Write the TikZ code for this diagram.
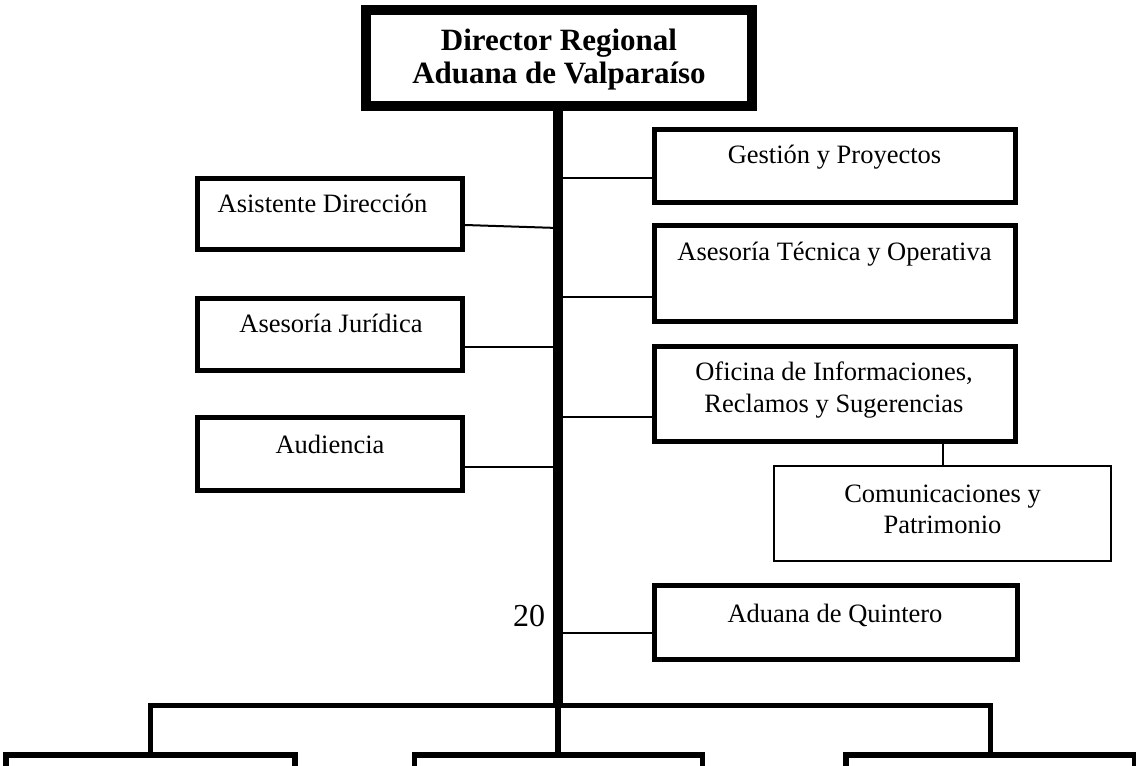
\documentclass[tikz,border=0pt]{standalone}
\usepackage{fontspec}
\setmainfont{Liberation Serif}
\begin{document}
\begin{tikzpicture}[x=1pt,y=-1pt,
  unit/.style={draw, line width=5pt, rectangle, inner sep=0pt},
  thinunit/.style={draw, line width=2pt, rectangle, inner sep=0pt},
  lbl/.style={anchor=base, inner sep=0pt, align=center, font=\fontsize{26.5}{32}\selectfont},
  link/.style={line width=2pt},
  spine/.style={line width=10pt},
  bar/.style={line width=5.5pt, line join=miter}]
\fill[white] (0,0) rectangle (1136,766);
\clip (0,0) rectangle (1136,766);
% top box
\node[draw, line width=10pt, inner sep=0pt, minimum width=386pt, minimum height=96pt] (dir) at (559,58) {};
\node[lbl, font=\fontsize{31}{33}\selectfont\bfseries] (tdir) at (559,83) {Director Regional\\Aduana de Valpara\'iso};
% left boxes
\node[unit, minimum width=265pt, minimum height=71pt] (asis) at (330,214) {};
\node[lbl] (tasis) at (322.5,212) {Asistente Dirección};
\node[unit, minimum width=265pt, minimum height=72pt] (jur) at (330,334.5) {};
\node[lbl] (tjur) at (331,332) {Asesoría Jurídica};
\node[unit, minimum width=265pt, minimum height=73pt] (aud) at (330,454) {};
\node[lbl] (taud) at (330,453) {Audiencia};
% right boxes
\node[unit, minimum width=361pt, minimum height=73pt] (gest) at (835,166) {};
\node[lbl] (tgest) at (834.5,163) {Gestión y Proyectos};
\node[unit, minimum width=361pt, minimum height=96.5pt] (tec) at (835,273.5) {};
\node[lbl] (ttec) at (834.5,260) {Asesoría Técnica y Operativa};
\node[unit, minimum width=361pt, minimum height=95pt] (ofi) at (835,394) {};
\node[lbl] (tofi) at (834,412) {Oficina de Informaciones,\\Reclamos y Sugerencias};
\node[thinunit, minimum width=337pt, minimum height=95pt] (com) at (942.5,513.5) {};
\node[lbl, font=\fontsize{26.5}{31}\selectfont] (tcom) at (942.5,533) {Comunicaciones y\\Patrimonio};
\node[unit, minimum width=363pt, minimum height=74pt] (quin) at (836,622.5) {};
\node[lbl] (tquin) at (835,622) {Aduana de Quintero};
\node[lbl, font=\fontsize{32}{34}\selectfont] (num) at (529,626) {20};
% bottom boxes
\node[unit, line width=5.5pt, minimum width=289pt, minimum height=104pt] (b1) at (150.5,807) {};
\node[unit, line width=5.5pt, minimum width=288pt, minimum height=104pt] (b2) at (558.5,807) {};
\node[unit, line width=5.5pt, minimum width=289pt, minimum height=104pt] (b3) at (990.5,807) {};
% spine
\coordinate (jn) at (558,705.5);
\draw[spine] (dir.south -| jn) -- (jn |- 0,708);
\draw[bar] (b1.north) |- (jn) -| (b3.north);
\draw[line width=6pt] (jn) -- (b2.north -| jn);
% connectors
\draw[link] (asis.east |- 0,225) -- (jn |- 0,228);
\draw[link] (jur.east |- 0,347) -- (jn |- 0,347);
\draw[link] (aud.east |- 0,467) -- (jn |- 0,467);
\draw[link] (jn |- 0,178) -- (gest.west |- 0,178);
\draw[link] (jn |- 0,297) -- (tec.west |- 0,297);
\draw[link] (jn |- 0,417) -- (ofi.west |- 0,417);
\draw[link] (jn |- 0,633) -- (quin.west |- 0,633);
\draw[link] (ofi.south -| com.north) -- (com.north);
\end{tikzpicture}
\end{document}
